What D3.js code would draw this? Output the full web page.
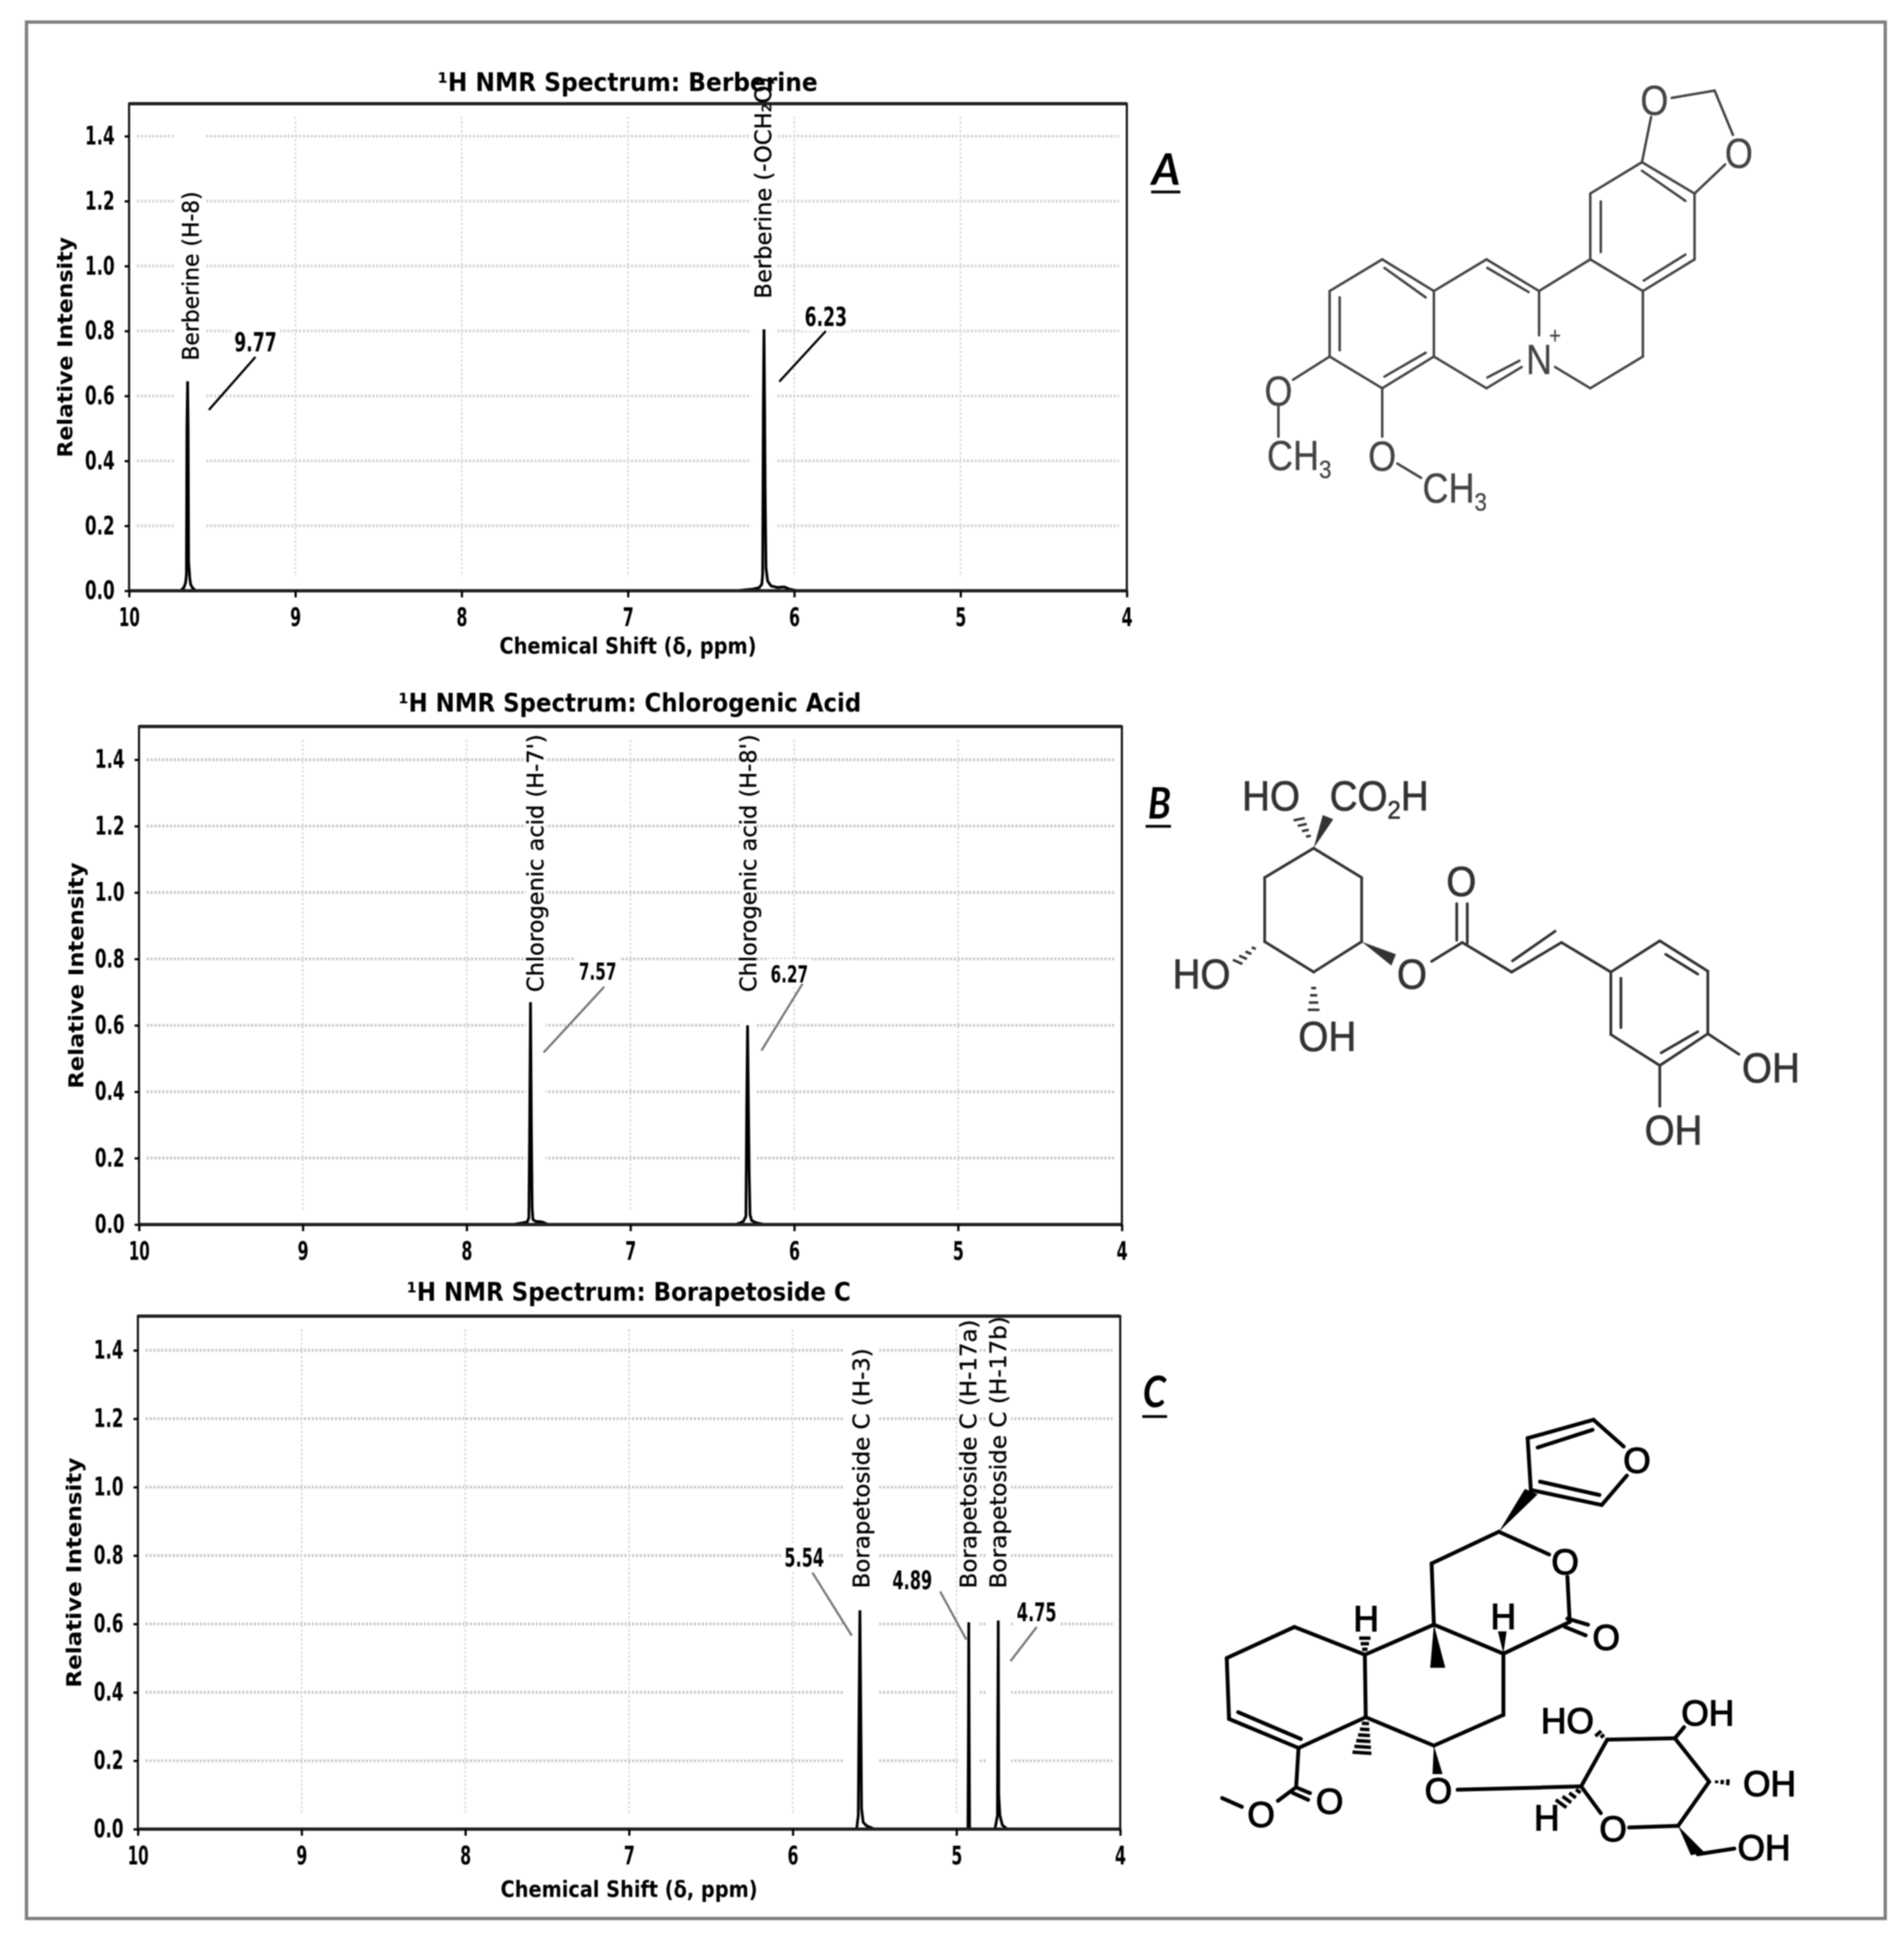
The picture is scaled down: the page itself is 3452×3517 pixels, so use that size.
<!DOCTYPE html>
<html><head><meta charset="utf-8">
<script src="https://cdnjs.cloudflare.com/ajax/libs/d3/7.8.5/d3.min.js"></script>
<style>html,body{margin:0;padding:0;background:#fff}svg{display:block;filter:blur(1px)}</style>
</head><body><svg id="c" width="3452" height="3517"></svg>
<script>
// ---------- data ----------
const yTicks = [0,0.2,0.4,0.6,0.8,1.0,1.2,1.4];
const xTicks = [10,9,8,7,6,5,4];
const titles = ["¹H NMR Spectrum: Berberine","¹H NMR Spectrum: Chlorogenic Acid","¹H NMR Spectrum: Borapetoside C"];

const berberineShift = [10,9.69,9.67,9.66,9.655,9.652,9.648,9.645,9.642,9.635,9.63,9.62,9.60,6.35,6.25,6.21,6.195,6.19,6.186,6.182,6.178,6.175,6.17,6.16,6.14,6.10,6.06,6.03,5.98,4];
const berberineValue = [0,0,0.01,0.025,0.05,0.50,0.645,0.50,0.09,0.04,0.02,0.01,0,0,0.005,0.01,0.02,0.05,0.55,0.805,0.55,0.30,0.07,0.03,0.015,0.01,0.012,0.005,0,0];
const chlorogenicShift = [10,7.72,7.66,7.63,7.62,7.615,7.61,7.605,7.60,7.595,7.58,7.54,7.50,6.36,6.33,6.31,6.295,6.29,6.285,6.28,6.275,6.27,6.26,6.23,6.18,4];
const chlorogenicValue = [0,0,0.005,0.008,0.02,0.30,0.67,0.30,0.05,0.015,0.01,0.008,0,0,0.005,0.01,0.025,0.36,0.60,0.36,0.15,0.03,0.012,0.005,0,0];
const borapetosideShift = [10,5.61,5.60,5.595,5.59,5.585,5.58,5.57,5.55,5.50,4.93,4.927,4.925,4.923,4.92,4.765,4.75,4.748,4.745,4.742,4.735,4.72,4.69,4];
const borapetosideValue = [0,0,0.04,0.36,0.64,0.36,0.06,0.02,0.01,0,0,0.30,0.605,0.30,0,0,0.04,0.30,0.61,0.10,0.04,0.012,0,0];

const peakLabelsA = ["Berberine (H-8)","Berberine (-OCH₂O)"];
const peakLabelPpmA = [9.63,6.185];
const peakLabelLowA = [0.709,0.90];
const peakLabelHighA = [1.23,1.583];
const peakLabelsB = ["Chlorogenic acid (H-7')","Chlorogenic acid (H-8')"];
const peakLabelPpmB = [7.578,6.278];
const peakLabelLowB = [0.70,0.70];
const peakLabelHighB = [1.476,1.476];
const peakLabelsC = ["Borapetoside C (H-3)","Borapetoside C (H-17a)","Borapetoside C (H-17b)"];
const peakLabelPpmC = [5.58,4.925,4.745];
const peakLabelLowC = [0.704,0.704,0.704];
const peakLabelHighC = [1.406,1.49,1.50];

const shiftTextA = ["9.77","6.23"];
const shiftTextB = ["7.57","6.27"];
const shiftTextC = ["5.54","4.89","4.75"];
// label centre (ppm, intensity) then leader line ends
const shiftPosA = [[9.24,0.766,9.24,0.72,9.52,0.557],[5.81,0.844,5.81,0.80,6.09,0.644]];
const shiftPosB = [[7.20,0.765,7.16,0.716,7.53,0.518],[6.03,0.757,5.95,0.725,6.20,0.524]];
const shiftPosC = [[5.93,0.795,5.88,0.75,5.64,0.566],[5.27,0.729,5.10,0.695,4.94,0.554],[4.51,0.635,4.51,0.591,4.67,0.491]];

// ---------- layout ----------
const svg = d3.select("#c");
const DJ = "'DejaVu Sans'", LS = "'Liberation Sans'";
svg.append("rect").attr("width",3452).attr("height",3517).attr("fill","#fff");
svg.append("rect").attr("x",48).attr("y",40).attr("width",3370).attr("height",3438)
  .attr("fill","none").attr("stroke","#7f7f7f").attr("stroke-width",6);

function txt(g,s,x,y,o={}){
  const t=g.append("text").text(s).attr("font-family",o.family||DJ).attr("font-size",o.size||36)
    .attr("font-weight",o.weight||"normal").attr("fill",o.fill||"#000").attr("text-anchor",o.anchor||"middle")
    .attr("transform",`translate(${x},${y})`+(o.rotate?` rotate(${o.rotate})`:""));
  if(o.len) t.attr("textLength",o.len).attr("lengthAdjust","spacingAndGlyphs");
  return t;
}

const panels = [
 {box:[234,2043,188,1071],title:titles[0],titleX:1138,titleY:165,titleLen:689,xlabel:true,xlabelY:1185,ylabelX:131,ylabelLen:400,
  shift:berberineShift,val:berberineValue,lab:peakLabelsA,ppm:peakLabelPpmA,lo:peakLabelLowA,hi:peakLabelHighA,
  st:shiftTextA,sp:shiftPosA,leader:"#000",numSize:48,numLen:77,grid:"#d4d4d4",band:[56,45]},
 {box:[252,2034,1317,2220],title:titles[1],titleX:1142,titleY:1290,titleLen:839,xlabel:false,ylabelX:151,ylabelLen:410,
  shift:chlorogenicShift,val:chlorogenicValue,lab:peakLabelsB,ppm:peakLabelPpmB,lo:peakLabelLowB,hi:peakLabelHighB,
  st:shiftTextB,sp:shiftPosB,leader:"#777",numSize:42,numLen:68,grid:"#c8c8c8",band:[36,28]},
 {box:[250,2031,2386,3316],title:titles[2],titleX:1140,titleY:2358,titleLen:805,xlabel:true,xlabelY:3439,ylabelX:147,ylabelLen:417,
  shift:borapetosideShift,val:borapetosideValue,lab:peakLabelsC,ppm:peakLabelPpmC,lo:peakLabelLowC,hi:peakLabelHighC,
  st:shiftTextC,sp:shiftPosC,leader:"#777",numSize:46,numLen:72,grid:"#c8c8c8",band:[62,40,46]}
];

panels.forEach(p=>{
  const [x0,x1,y0,y1]=p.box;
  const x=d3.scaleLinear().domain([10,4]).range([x0,x1]);
  const y=d3.scaleLinear().domain([0,1.5]).range([y1,y0]);
  const g=svg.append("g");
  // grid
  g.append("g").selectAll("line").data(yTicks.slice(1)).join("line")
    .attr("x1",x0+14).attr("x2",x1-14).attr("y1",d=>y(d)).attr("y2",d=>y(d))
    .attr("stroke",p.grid).attr("stroke-width",5).attr("stroke-dasharray","4 3");
  g.append("g").selectAll("line").data(xTicks.slice(1,-1)).join("line")
    .attr("x1",d=>x(d)).attr("x2",d=>x(d)).attr("y1",y0+24).attr("y2",y1-26)
    .attr("stroke","#d8d8d8").attr("stroke-width",3).attr("stroke-dasharray","4 4");
  // white bands behind the labels
  g.append("g").selectAll("rect").data(p.ppm).join("rect")
    .attr("x",(d,i)=>x(d)-p.band[i]/2).attr("width",(d,i)=>p.band[i]).attr("y",y0+4).attr("height",y1-y0-60).attr("fill","#fff");
  p.st.forEach((s,i)=>{
    const q=p.sp[i];
    g.append("rect").attr("x",x(q[0])-p.numLen/2-6).attr("width",p.numLen+12)
      .attr("y",y(q[1])-26).attr("height",52).attr("fill","#fff");
  });
  // spectrum
  const pts=d3.zip(p.shift,p.val);
  g.append("path").attr("d",d3.line().x(d=>x(d[0])).y(d=>y(d[1]))(pts))
    .attr("fill","none").attr("stroke","#000").attr("stroke-width",5).attr("stroke-linejoin","miter");
  // frame
  g.append("rect").attr("x",x0).attr("y",y0).attr("width",x1-x0).attr("height",y1-y0)
    .attr("fill","none").attr("stroke","#1a1a1a").attr("stroke-width",4);
  g.append("line").attr("x1",x0).attr("x2",x1).attr("y1",y0).attr("y2",y0).attr("stroke","#222").attr("stroke-width",6);
  g.append("line").attr("x1",x0).attr("x2",x1).attr("y1",y1).attr("y2",y1).attr("stroke","#222").attr("stroke-width",6);
  // axes
  const ax=g.append("g").attr("transform",`translate(0,${y1})`)
    .call(d3.axisBottom(x).tickValues(xTicks).tickFormat(d3.format("d")).tickSize(12).tickPadding(19));
  const ay=g.append("g").attr("transform",`translate(${x0},0)`)
    .call(d3.axisLeft(y).tickValues(yTicks).tickFormat(d3.format(".1f")).tickSize(8).tickPadding(18));
  [ax,ay].forEach(a=>{
    a.select(".domain").remove();
    a.selectAll("line").attr("stroke","#000").attr("stroke-width",4);
    a.selectAll("text").attr("font-family",DJ).attr("font-weight","bold").attr("font-size",46).attr("fill","#000");
  });
  ax.selectAll("text").attr("textLength",d=>d===10?38:20).attr("lengthAdjust","spacingAndGlyphs");
  ay.selectAll("text").attr("textLength",54).attr("lengthAdjust","spacingAndGlyphs");
  // titles and axis labels
  txt(g,p.title,p.titleX,p.titleY,{size:46,weight:"bold",len:p.titleLen});
  txt(g,"Relative Intensity",p.ylabelX,(y0+y1)/2,{size:38,weight:"bold",rotate:-90,len:p.ylabelLen});
  if(p.xlabel) txt(g,"Chemical Shift (δ, ppm)",(x0+x1)/2,p.xlabelY,{size:40,weight:"bold",len:466});
  // peak labels
  p.lab.forEach((s,i)=>{
    const bottom=y(p.lo[i]), top=y(p.hi[i]);
    txt(g,s,x(p.ppm[i])+14,bottom,{size:40,anchor:"start",rotate:-90,len:bottom-top}).attr("stroke","#000").attr("stroke-width",0.6);
  });
  // shift values and leaders
  p.st.forEach((s,i)=>{
    const q=p.sp[i];
    g.append("line").attr("x1",x(q[2])).attr("y1",y(q[3])).attr("x2",x(q[4])).attr("y2",y(q[5]))
      .attr("stroke",p.leader).attr("stroke-width",4);
    txt(g,s,x(q[0]),y(q[1])+17,{size:p.numSize,weight:"bold",len:p.numLen});
  });
});

// ---------- panel letters ----------
[["A",2114,335,2087,2140,348,52],["B",2102,1484,2077,2123,1498,42],["C",2093,2551,2071,2116,2568,42]].forEach(l=>{
  txt(svg,l[0],l[1],l[2],{size:78,weight:"bold",family:"Lato,'Liberation Sans'",len:l[6]}).attr("font-style","italic");
  svg.append("line").attr("x1",l[3]).attr("x2",l[4]).attr("y1",l[5]).attr("y2",l[5]).attr("stroke","#000").attr("stroke-width",5);
});

// ---------- structure drawings (illustration, in crop coordinates) ----------
function structure(ox,oy,sx,sy,col,lw,fs,xs,ts,def){
  const X=v=>ox+v*sx, Y=v=>oy+v*sy;
  const g=svg.append("g");
  (def.bonds||[]).forEach(b=>g.append("line").attr("x1",X(b[0])).attr("y1",Y(b[1])).attr("x2",X(b[2])).attr("y2",Y(b[3]))
     .attr("stroke",col).attr("stroke-width",lw).attr("stroke-linecap","round"));
  (def.wedges||[]).forEach(w=>g.append("polygon").attr("points",w.map((v,i)=>i%2?Y(v):X(v)).reduce((a,v,i)=>a+(i%2?","+v+" ":v),"")).attr("fill",col));
  (def.hashes||[]).forEach(h=>{
    const n=h[5]||5;
    for(let i=0;i<n;i++){
      const t=(i+0.5)/n, cx=h[0]+(h[2]-h[0])*t, cy=h[1]+(h[3]-h[1])*t;
      const dx=h[2]-h[0], dy=h[3]-h[1], L=Math.hypot(dx,dy), w=h[4]*(0.3+0.7*t);
      g.append("line").attr("x1",X(cx-dy/L*w)).attr("y1",Y(cy+dx/L*w)).attr("x2",X(cx+dy/L*w)).attr("y2",Y(cy-dx/L*w))
       .attr("stroke",col).attr("stroke-width",lw*0.9);
    }
  });
  (def.atoms||[]).forEach(a=>{
    const t=g.append("text").attr("font-family",LS).attr("font-size",a[4]||fs).attr("fill",col)
      .attr("stroke",col).attr("stroke-width",ts)
      .attr("text-anchor",a[3]||"middle").attr("transform",`translate(${X(a[1])},${Y(a[2])+(a[4]||fs)*0.36}) scale(${xs},1)`);
    String(a[0]).split("_").forEach((part,i)=>{
      const tn=t.append("tspan").text(part);
      if(i%2){tn.attr("font-size",(a[4]||fs)*0.62).attr("dy",(a[4]||fs)*0.2);}
      else if(i>0){tn.attr("dy",-(a[4]||fs)*0.2);}
    });
  });
}

structure(2050,100,1300/1568,900/1568,"#444",4.5,76,0.86,0.5,{
 bonds:[[435,745,550,645],[550,645,663,745],[663,745,663,952],[663,952,550,1052],[550,1052,435,952],[435,952,435,745],
  [457,765,457,932],[555,672,645,765],[645,940,555,1015],
  [663,745,778,645],[778,645,893,745],[780,672,870,748],[893,745,893,885],[855,985,778,1052],[780,1018,850,965],[663,952,778,1052],
  [893,745,1005,645],[1005,645,1120,745],[1120,745,1120,952],[1120,952,1005,1052],[1005,1052,928,985],
  [1005,645,1005,437],[1005,437,1118,338],[1118,338,1233,437],[1233,437,1233,645],[1233,645,1120,745],
  [1028,462,1028,622],[1118,365,1213,460],[1213,630,1122,712],
  [1118,338,1138,195],[1183,135,1277,112],[1277,112,1317,252],[1300,345,1233,437],
  [435,952,355,1025],[323,1110,323,1205],[550,1052,550,1205],[583,1290,635,1335]],
 atoms:[["O",1145,140],["O",1330,307],["N",893,960],["+",928,885,"middle",42],["O",323,1058],["O",550,1265],
  ["CH_3",298,1262,"start"],["CH_3",638,1365,"start"]]
});

structure(2050,1350,1300/1568,800/1568,"#333",5,76,0.92,1.2,{
 bonds:[[400,368,505,472],[505,472,505,700],[505,700,400,808],[400,808,293,700],[293,700,293,472],[293,472,400,368],
  [658,770,725,703],[713,565,713,695],[736,565,736,705],[725,703,833,808],[833,808,942,703],[835,768,928,663],[942,703,1050,808],
  [1050,808,1157,697],[1157,697,1262,805],[1262,805,1262,1027],[1262,1027,1157,1140],[1157,1140,1050,1030],[1050,1030,1050,808],
  [1170,745,1240,815],[1240,1020,1160,1095],[1072,830,1072,1005],[1262,1027,1330,1100],[1157,1140,1157,1285]],
 wedges:[[400,368,420,250,443,265],[505,700,580,745,570,785]],
 hashes:[[392,335,365,255,14,4],[275,715,228,780,14,4],[400,852,400,955,14,4]],
 atoms:[["HO",307,180],["CO_2_H",435,180,"start"],["O",615,813],["O",723,483],["HO",155,813],["OH",430,1035],["OH",1400,1145],["OH",1187,1367]]
});

structure(2050,2480,1300/1568,950/1568,"#000",7,64,1.0,2,{
 bonds:[[875,365,868,210],[868,210,1012,155],[1012,155,1078,235],[1085,322,1030,410],[1030,410,875,365],[890,238,1010,185],[895,340,1025,380],
  [805,490,915,558],[955,625,960,760],[960,760,815,855],[955,750,1000,768],[950,775,995,800],
  [805,490,658,585],[658,585,663,768],[663,768,512,858],[663,768,815,855],
  [512,858,358,775],[358,775,210,868],[210,868,215,1050],[215,1050,367,1137],[235,1030,372,1110],[367,1137,514,1045],[512,858,514,1045],
  [514,1045,663,1130],[663,1130,815,1038],[815,1038,815,855],
  [367,1137,362,1250],[362,1255,392,1272],[355,1272,388,1292],[358,1258,322,1295],[243,1313,200,1287],
  [715,1262,985,1252],[985,1252,1042,1112],[1042,1112,1190,1108],[1190,1108,1265,1238],[1265,1238,1197,1370],[985,1252,1028,1332],[1090,1375,1197,1370],
  [1190,1108,1210,1075],[1240,1455,1320,1438]],
 wedges:[[805,490,862,362,890,378],[663,768,655,897,688,897],[815,855,803,788,822,788],[663,1130,660,1215,682,1215],[1197,1370,1225,1458,1255,1450]],
 hashes:[[512,850,512,800,14,3],[514,1055,505,1160,22,6],[985,1260,935,1310,18,4],[1036,1105,1018,1090,12,2],[1275,1238,1312,1240,10,3]],
 atoms:[["O",1107,275],["O",950,580],["O",1040,805],["H",515,750],["H",815,742],["O",435,1295],["O",285,1335],["O",673,1265],["O",1055,1378],
  ["H",910,1345],["HO",955,1055],["OH",1262,1032],["OH",1397,1243],["OH",1385,1435]]
});
</script></body></html>
